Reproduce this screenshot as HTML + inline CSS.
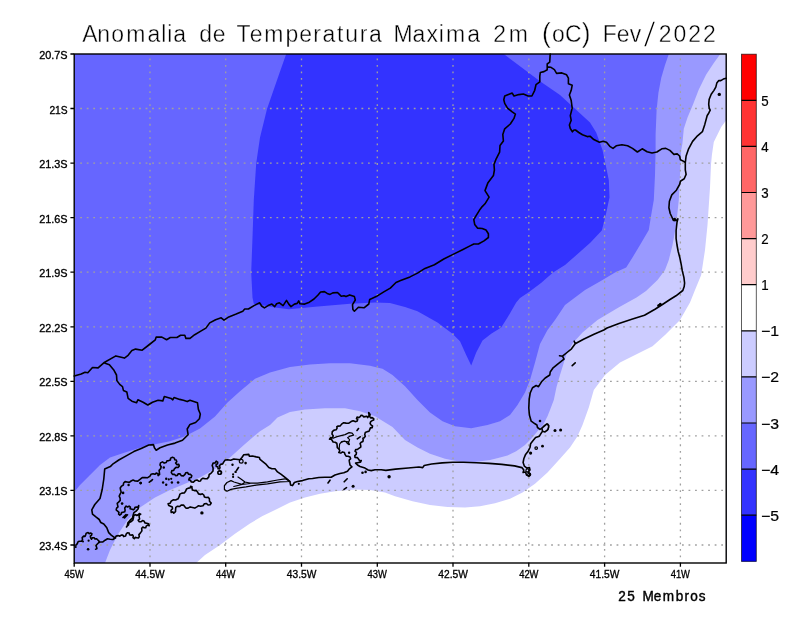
<!DOCTYPE html>
<html><head><meta charset="utf-8"><title>Anomalia de Temperatura Maxima 2m</title>
<style>
html,body{margin:0;padding:0;background:#fff;}
svg{display:block;}
text{font-family:"Liberation Sans",sans-serif;fill:#000;white-space:pre;}
.ax text{font-size:11.7px;stroke:#000;stroke-width:0.35px;}
.cb text{font-size:14.2px;stroke:#000;stroke-width:0.2px;}
.ti text{font-size:24.7px;stroke:#fff;stroke-width:0.4px;}
.mb text{font-size:14px;stroke:#000;stroke-width:0.4px;}
</style></head><body>
<svg width="800" height="618" viewBox="0 0 800 618">
<rect width="800" height="618" fill="#fff"/>
<rect x="74.2" y="54.0" width="652.0" height="509.0" fill="#6666ff"/>
<polygon points="286.2,54.0 278.8,75.0 267.0,109.0 260.0,137.5 256.2,163.5 253.8,200.0 252.5,237.5 251.2,272.5 252.5,297.5 253.8,303.8 275.0,307.5 288.8,309.2 315.0,306.8 350.0,303.8 375.0,302.5 390.0,303.0 405.0,307.0 417.5,311.2 437.5,322.5 452.5,333.8 460.0,341.2 466.2,355.0 471.2,365.5 476.2,352.5 482.5,340.5 491.2,333.8 501.2,327.5 507.5,317.5 516.2,302.5 520.0,298.0 529.0,292.0 541.0,283.0 553.0,272.5 565.0,265.0 577.0,254.5 590.5,242.5 601.8,230.5 604.5,220.0 606.2,213.0 609.5,197.5 608.8,180.0 606.2,167.5 602.5,150.0 596.2,132.5 590.0,122.5 575.0,108.8 560.0,95.0 540.0,81.2 515.0,62.5 503.8,54.0" fill="#3333ff"/>
<polygon points="74.2,492.0 80.0,485.0 90.0,475.0 100.0,465.0 110.0,457.5 125.0,452.5 145.0,446.2 170.0,441.2 185.0,436.2 200.0,428.5 215.0,416.5 227.5,402.5 240.0,391.2 255.0,378.8 270.0,372.5 290.0,367.0 310.0,364.5 330.0,363.2 350.0,363.2 370.0,365.8 382.5,368.8 392.5,375.0 405.0,386.2 417.5,400.0 430.0,412.5 442.5,421.2 455.0,426.2 471.2,428.2 487.5,425.0 500.0,421.2 510.0,415.0 517.5,405.0 525.0,392.5 530.0,380.0 535.0,362.5 540.0,344.0 547.5,330.0 555.0,320.0 565.0,305.0 585.0,290.0 602.5,280.0 615.0,272.5 626.2,267.5 632.5,257.5 640.0,245.0 648.8,230.0 651.2,215.0 653.8,200.0 655.0,175.0 655.6,150.0 655.6,134.4 656.6,110.0 658.4,93.0 661.2,78.0 665.0,65.0 668.8,54.0 726.2,54.0 726.2,563.0 74.2,563.0" fill="#9999ff"/>
<polygon points="105.0,563.0 110.0,550.0 117.5,535.0 127.5,520.0 140.0,507.5 155.0,497.5 170.0,490.0 185.0,483.8 200.0,477.5 215.0,469.0 230.0,457.5 245.0,444.0 260.0,431.2 270.0,425.0 277.5,417.5 290.0,412.0 305.0,409.5 325.0,408.2 345.0,408.2 360.0,411.2 375.0,416.2 392.5,427.0 405.0,440.0 417.5,447.5 430.0,453.8 445.0,458.8 460.0,461.8 475.0,462.0 490.0,460.0 500.0,457.5 507.5,455.6 516.2,451.2 525.0,445.0 531.2,438.8 537.5,431.2 543.1,425.0 547.5,416.2 550.0,410.0 553.8,400.0 556.5,387.0 560.0,375.0 566.2,355.0 572.5,343.5 582.5,332.5 597.5,320.0 618.5,307.5 636.5,297.5 646.0,291.0 657.5,280.0 665.0,270.0 668.8,260.0 672.5,245.0 676.2,225.0 678.8,200.0 680.0,175.0 681.2,150.0 682.4,143.8 683.8,128.8 687.5,117.5 693.0,104.4 698.8,89.4 706.2,74.4 713.8,63.0 720.3,54.0 726.2,54.0 726.2,563.0" fill="#ccccff"/>
<polygon points="196.2,563.0 205.0,555.0 220.0,545.0 235.0,533.8 250.0,523.5 262.5,516.0 275.0,510.0 290.0,502.5 305.0,497.5 320.0,493.8 335.0,491.2 355.0,489.5 370.0,490.0 385.0,492.5 395.0,496.2 412.5,501.2 430.0,505.0 447.5,507.0 465.0,507.5 480.0,506.2 495.0,503.2 510.0,498.8 522.5,492.5 535.0,483.8 547.5,472.5 560.0,458.8 570.0,447.5 577.5,436.2 582.5,425.0 588.8,407.5 593.8,390.0 605.0,375.0 620.0,362.5 635.0,355.0 652.5,346.2 665.0,335.0 680.0,320.0 690.0,302.5 695.0,290.0 701.2,275.0 705.0,250.0 707.5,225.0 710.0,187.5 711.0,164.4 711.9,155.0 713.8,142.0 717.5,134.4 721.2,127.0 726.2,120.3 726.2,563.0" fill="#ffffff"/>
<path d="M150.0 563.0V54.0M225.7 563.0V54.0M301.5 563.0V54.0M377.3 563.0V54.0M453.0 563.0V54.0M528.8 563.0V54.0M604.6 563.0V54.0M680.4 563.0V54.0" stroke="#a0a0a0" stroke-width="1.3" stroke-dasharray="1.8 4.741" stroke-dashoffset="0.9" fill="none"/>
<path d="M74.2 108.5H726.2M74.2 163.1H726.2M74.2 217.6H726.2M74.2 272.2H726.2M74.2 326.8H726.2M74.2 381.3H726.2M74.2 435.8H726.2M74.2 490.4H726.2M74.2 545.0H726.2" stroke="#a0a0a0" stroke-width="1.3" stroke-dasharray="1.8 4.741" stroke-dashoffset="0.55" fill="none"/>
<!--MAP-->
<path d="M74.2 376.0L81.2 374.0L85.0 372.2L87.8 372.8L92.5 367.5L98.1 367.9L103.8 362.8L115.9 355.9L124.4 358.1L128.1 355.3L131.9 350.6L135.6 349.1L142.2 350.2L148.8 345.0L155.3 339.8L156.2 337.1L161.9 337.1L166.6 339.8L170.3 337.5L176.9 337.5L180.6 335.2L184.8 335.2L185.9 338.4L190.0 338.4L194.7 334.7L201.2 330.9L205.9 328.1L209.7 322.9L215.6 319.7L221.2 317.8L224.0 320.2L228.8 316.9L236.2 314.0L242.8 311.2L244.7 309.0L248.4 309.0L254.0 305.6L259.7 302.8L261.6 306.0L264.4 307.9L268.1 305.6L271.9 304.1L274.7 306.6L276.6 303.8L279.4 302.8L283.1 305.6L286.5 300.4L288.8 304.1L291.0 306.6L294.4 304.1L297.2 303.4L298.7 300.9L300.0 303.8L304.7 304.1L309.4 302.2L314.0 299.0L317.8 295.3L320.6 292.0L324.4 291.6L327.2 293.4L330.0 294.4L332.8 292.9L337.5 292.5L339.4 294.4L341.2 296.2L344.0 295.7L346.0 296.6L349.7 294.9L354.4 296.6L355.3 300.0L352.5 304.7L352.9 309.4L354.4 311.2L358.4 307.2L364.0 307.8L368.8 304.0L369.7 299.4L376.2 296.6L383.8 291.9L390.3 288.1L396.0 282.5L400.6 280.6L410.0 276.9L417.5 273.1L425.0 268.4L434.4 264.7L443.8 259.0L453.1 254.4L462.5 249.7L470.0 245.9L473.8 244.0L478.4 244.0L484.0 240.9L488.4 237.5L488.4 233.8L486.0 230.0L482.2 228.5L477.5 228.1L474.7 224.4L473.8 219.7L476.0 215.9L479.4 210.3L482.2 206.6L485.0 203.8L489.1 197.2L485.0 190.6L487.8 183.1L493.4 175.6L494.4 170.0L494.0 164.4L496.2 158.8L499.6 152.2L500.0 145.6L503.4 141.0L502.8 134.4L504.7 128.8L510.3 124.0L514.0 118.4L515.4 114.1L512.2 111.9L507.5 108.1L504.7 103.4L503.8 99.7L504.7 96.0L508.4 94.6L512.2 93.1L514.0 96.0L518.8 94.6L523.4 94.0L528.1 96.0L531.9 96.0L534.7 90.3L536.0 84.7L539.8 81.9L539.8 76.2L540.3 72.5L544.0 71.6L547.2 69.7L547.2 64.0L549.7 62.2L550.2 54.0M547.2 66.9L550.6 67.2L554.4 69.7L556.6 73.4L561.9 72.9L566.6 74.8L568.4 78.1L568.4 83.8L572.2 85.2L571.2 90.3L569.4 95.0L571.2 100.6L572.2 108.1L570.3 115.6L571.2 120.3L569.4 125.0L570.3 128.5L572.4 131.8L574.0 130.0L575.5 130.0L578.8 132.5L582.5 134.8L587.2 136.6L590.0 136.2L593.8 139.6L599.4 142.2L603.2 141.2L606.5 142.2L609.8 146.3L613.0 148.4L616.2 145.8L621.9 144.7L627.6 145.8L632.5 148.4L637.4 152.0L642.2 148.8L647.1 151.7L652.0 153.0L656.9 152.0L661.8 148.8L665.8 148.4L669.9 150.4L673.9 154.4L677.2 153.9L679.6 156.0L680.4 159.8L682.9 160.9L685.3 162.6M103.8 362.8L109.4 364.7L114.0 370.3L116.5 375.0L116.9 380.6L119.7 384.4L122.5 386.6L123.4 390.4L126.8 391.9L128.1 398.4L131.9 401.2L136.6 402.8L137.9 399.8L143.1 402.2L147.8 405.0L152.5 402.2L158.1 400.3L162.8 400.9L164.3 396.6L171.2 398.4L172.8 399.8L174.0 397.5L179.7 399.4L183.4 400.3L187.2 401.6L190.0 400.3L197.5 402.8L198.4 409.4L200.3 414.0L199.4 418.8L195.6 422.5L190.0 424.4L187.2 429.0L188.1 434.7L185.3 437.5L182.5 440.3L175.0 443.1L167.5 445.0L160.0 447.8L156.2 450.2L154.4 447.8L153.4 444.6L148.8 445.0L141.2 448.4L133.8 451.6L126.2 455.9L118.8 460.0L113.1 463.8L110.3 466.6L104.7 469.0L103.8 479.0L102.2 489.5L100.0 498.5L94.8 504.5L91.8 509.8L92.5 514.2L96.2 517.2L99.2 519.5L100.8 522.5L103.8 524.0L106.8 527.8L108.7 532.6L111.2 535.1L114.2 537.3L115.5 538.0M726.2 78.3L723.3 79.1L720.8 80.6L718.8 80.6L716.8 83.1L715.8 87.1L713.8 90.6L711.2 94.2L709.2 99.2L708.7 104.2L709.2 108.2L710.2 110.2L708.7 113.2L707.2 115.5L704.8 124.4L702.4 131.7L697.5 135.8L692.6 141.4L688.6 148.8L686.1 156.0L685.3 162.6L685.3 169.9L686.1 174.4L684.2 178.8L680.4 181.2L679.6 184.5L676.4 190.2L671.8 194.9L669.4 201.3L668.9 207.8L670.2 213.5L672.1 217.5L673.4 220.4L676.6 220.4L677.9 218.8L677.0 222.4L676.1 230.5L676.1 238.5L677.0 245.0L678.2 251.5L679.9 258.0L681.2 264.4L682.3 270.9L683.9 277.4L684.6 283.0L684.2 286.5L682.8 290.5L676.0 295.8L670.0 299.5L663.2 304.0L655.0 309.2L644.5 315.2L632.5 319.0L619.0 323.5L607.0 328.0L603.8 330.0L594.0 334.2L583.5 339.3L575.2 343.8L571.5 348.8L567.0 352.5L562.5 356.2L564.0 359.2L558.0 363.8L552.8 368.2L550.2 372.0L549.8 375.0L545.2 378.0L541.5 381.8L538.5 386.7L536.2 385.5L532.5 387.8L530.2 393.0L529.2 399.0L528.8 408.0L529.4 415.0L531.2 421.2L535.0 423.8L536.9 425.0L537.5 427.5L540.0 429.4L541.9 428.1L543.8 426.2L546.9 423.8L548.1 424.4L548.8 426.9L547.5 430.0L545.0 431.9L542.5 431.2L541.2 433.1L539.4 436.2L535.6 437.5L533.1 440.6L530.6 443.8L530.0 447.5L528.1 451.2L525.6 454.4L523.8 458.8L523.1 462.5L524.4 466.2L526.9 468.1L529.4 467.5L530.0 470.0L528.1 471.9L530.0 473.8L529.0 476.2L526.5 475.0L525.5 472.0L523.1 472.5L523.8 470.0L521.9 467.6L514.5 465.9L501.8 464.4L489.0 463.4L476.2 462.7L463.5 462.3L452.9 462.3L442.2 462.9L431.6 464.0L424.2 465.5L422.7 467.6L418.9 467.0L408.2 468.0L395.5 469.1L385.9 470.4L381.2 469.8L375.0 469.8L371.2 470.6L368.1 470.0L365.0 468.1L360.0 466.5L357.5 465.0L355.6 463.1L358.8 462.5L360.5 462.3L361.2 460.6L359.6 460.8L358.8 459.4L357.3 457.6L355.0 457.5L354.8 455.6L356.2 454.4L356.5 452.5L355.0 451.2L355.7 449.6L357.5 449.4L359.2 448.2L360.8 447.1L360.7 445.2L360.1 443.6L361.2 442.2L362.9 441.5L363.2 439.7L362.9 438.3L364.2 437.7L365.3 436.3L364.7 434.6L365.3 432.5L367.2 431.6L369.0 431.3L369.7 429.6L370.4 427.9L372.2 427.6L372.5 426.0L371.2 425.1L370.1 423.5L370.7 421.6L372.2 420.6L373.7 420.1L373.7 418.6L372.2 417.6L370.6 417.9L369.7 416.6L370.1 414.4L368.7 412.6L369.1 415.3L367.7 417.6L366.8 416.3L365.2 416.6L363.6 416.9L362.7 415.6L361.1 415.3L360.2 416.6L358.8 417.7L357.1 417.1L356.5 418.6L357.7 419.6L356.9 421.3L355.1 421.6L353.1 420.7L351.1 421.6L348.9 423.2L346.1 423.1L343.7 422.7L341.6 424.1L340.3 425.9L338.1 426.1L336.8 426.7L337.1 428.1L336.1 429.8L334.1 430.1L332.3 431.7L332.0 434.1L333.2 435.8L332.6 437.7L330.7 437.6L329.5 439.2L331.1 438.9L332.0 440.2L333.1 442.0L335.1 442.2L336.8 443.2L337.1 445.2L337.3 447.6L339.1 449.2L339.8 450.9L338.8 452.5L340.8 453.1L342.5 451.9L344.4 452.5L345.0 454.4L346.1 456.1L348.1 456.2L350.0 456.9L350.6 458.8L349.2 460.0L349.4 461.9L350.0 465.0L351.9 466.9L349.4 468.8L347.5 471.2L343.8 472.8L340.0 473.5L335.0 475.0L331.2 477.2L325.0 477.2L318.8 477.5L312.5 478.5L308.8 478.8L302.5 480.6L297.5 481.5L294.4 482.5L292.5 485.6L290.6 485.0L290.0 481.9L287.5 479.4L284.4 476.9L281.2 474.4L277.5 471.9L275.0 468.8L271.9 468.8L268.8 467.5L266.2 464.4L263.1 461.9L260.0 459.4L259.4 457.5L256.2 456.9L252.5 456.0L249.4 456.2L248.8 454.4L243.8 454.8L241.9 457.5L240.0 459.8L233.8 459.0L230.7 460.3L227.5 459.8L225.2 460.0L223.8 461.9L222.7 463.9L220.6 464.4L219.4 465.8L220.0 467.5L219.5 468.9L218.1 468.8L217.9 467.0L216.2 466.2L216.1 464.6L217.5 463.8L217.7 462.1L216.2 461.2L215.1 463.0L213.1 463.1L212.2 465.6L213.1 468.1L213.0 470.9L211.2 473.1L209.2 474.5L208.8 476.9L207.3 478.6L205.0 478.8L203.0 478.2L201.2 479.4L200.5 481.0L198.8 481.2L197.0 480.0L195.0 480.6L193.4 482.1L191.2 481.9L190.5 480.2L188.8 480.0L189.4 478.1L191.2 477.5L191.8 475.8L190.6 474.4L188.6 474.2L187.5 472.5L185.7 472.7L185.0 474.4L183.4 475.9L181.2 475.6L180.1 473.9L178.1 473.8L177.4 475.4L175.6 475.6L174.4 474.2L172.5 474.4L171.3 472.6L171.9 470.6L173.7 470.4L174.4 468.8L176.0 467.3L178.1 467.5L179.3 466.1L178.8 464.4L176.8 464.6L175.6 463.1L176.8 461.7L176.2 460.0L174.7 459.7L174.4 458.1L172.5 457.2L170.6 458.1L170.4 459.9L168.8 460.6L167.0 460.8L166.2 462.5L164.2 463.1L162.5 461.9L160.5 462.9L160.0 465.0L161.2 466.7L160.6 468.8L159.1 470.4L159.4 472.5L159.6 474.4L158.1 475.6L157.9 473.8L156.2 473.1L154.9 474.3L153.1 473.8L151.0 474.3L150.0 476.2L147.7 477.7L145.0 477.5L142.2 477.6L140.0 479.4L137.8 481.1L135.1 481.0L133.1 480.1L131.1 481.0L129.3 482.4L127.1 482.0L125.1 481.6L123.6 483.0L123.4 485.0L121.6 486.1L120.2 487.9L120.6 490.1L121.2 492.2L120.1 494.1L119.2 496.1L120.1 498.1L120.2 500.4L118.6 502.1L117.2 503.3L117.6 505.1L118.0 506.9L116.6 508.2L116.2 510.0L117.6 511.2L119.0 512.4L118.6 514.2L119.8 515.1L121.1 514.2L121.5 512.6L123.1 512.2L124.7 511.8L125.1 510.2L124.7 507.9L126.1 506.1L127.6 507.0L129.1 506.1L130.4 507.1L130.1 508.7L132.1 509.2L133.5 509.8L134.6 508.7L135.0 507.2L136.6 507.1L138.2 507.1L138.7 505.6L138.2 508.8L136.1 511.2L133.9 512.7L133.1 515.2L132.4 518.2L130.1 520.2L127.9 522.7L127.3 525.9L128.5 524.8L128.9 522.7L130.8 521.8L132.9 520.1L133.5 517.5L133.8 515.5L135.5 514.6L136.8 515.5L138.2 514.7L139.3 513.6L140.7 514.2L139.1 515.3L139.2 517.2L139.6 519.0L138.2 520.2L139.3 521.8L141.2 521.7L142.6 520.6L144.2 521.2L144.9 522.9L146.7 523.2L148.6 523.8L149.2 525.7L147.6 525.1L146.2 526.2L145.7 527.7L144.2 527.7L142.8 527.1L141.7 528.2L141.9 530.9L140.3 533.1L138.9 534.6L139.3 536.6L138.4 538.0L136.8 537.7L135.2 537.4L134.3 538.7L133.0 537.7L133.3 536.1L132.6 534.8L131.2 535.1L129.6 534.7L129.2 533.1L127.4 532.7L126.2 534.1L125.6 536.0L123.7 536.6L122.9 535.1L121.2 535.1L119.8 536.2L118.2 535.6L116.1 536.1L115.2 538.0L112.9 539.5L110.2 539.2L107.5 538.8L105.1 540.2L102.9 541.9L100.1 542.0L98.6 542.7L97.1 544.2L96.0 545.6L96.6 547.2L96.9 548.6L95.6 549.2L96.9 548.6L96.6 547.2L96.0 545.6L97.1 544.2L98.6 542.7L99.2 541.3L98.1 540.2L96.6 538.7L95.0 539.0L94.1 537.7L92.4 537.7L91.6 539.2L90.6 537.7L90.3 536.1L91.6 535.1L91.9 533.7L90.6 533.1L89.2 533.7L88.1 532.6L86.2 533.2L85.6 535.1L85.0 536.4L83.6 536.1L82.2 537.6L82.5 539.7L81.7 541.2L80.0 541.2L78.2 541.5L77.5 543.2L76.3 545.0L74.2 545.2M168.1 503.8L170.2 503.2L171.2 501.2L173.2 499.8L175.6 500.0L178.1 498.8L179.4 496.2L179.9 494.1L181.9 493.1L184.2 493.0L185.6 491.2L186.5 489.0L188.8 488.1L190.3 487.8L190.6 486.2L192.0 486.7L191.9 488.1L192.5 490.0L194.4 490.6L196.3 490.4L197.5 491.9L198.5 493.9L200.6 494.4L202.3 493.8L203.8 495.0L204.4 496.9L206.2 497.5L208.2 497.3L209.4 498.8L209.5 501.3L211.2 503.1L210.1 504.8L208.1 505.0L206.5 503.5L204.4 503.8L203.0 505.8L200.6 506.2L198.6 505.7L196.9 506.9L194.8 508.1L192.5 507.5L190.2 506.9L188.1 508.1L186.2 508.3L185.0 506.9L183.5 505.1L181.2 505.0L179.7 506.5L177.5 506.2L175.8 507.4L175.6 509.4L175.5 511.7L173.8 513.1L172.7 511.9L171.2 512.5L171.0 510.3L172.5 508.8L172.3 507.0L170.6 506.2L168.7 505.6L168.1 503.8M541.9 428.1L546.9 423.8L548.8 425.6L548.1 429.4L545.0 431.9L542.5 431.2L541.9 428.1M572.2 365.6L575.2 362.8M328.0 483.0L330.0 480.2M344.2 481.8L347.2 478.8M344.0 489.3L346.5 487.7M357.0 430.5L358.5 428.5M357.3 438.8L360.2 436.8M149.3 482.2L152.0 480.3M150.0 481.5L152.5 479.5M236.5 470.5L238.5 467.5M123.0 517.5L126.0 514.5M124.5 518.0L127.5 514.8M126.5 527.0L129.0 523.0M574.2 341.2L575.2 343.8M559.5 355.8L562.5 356.2" fill="none" stroke="#000" stroke-width="1.6" stroke-linejoin="round" stroke-linecap="round"/>
<path d="M238.0 477.0L240.6 478.8L245.0 482.0L250.0 483.2L257.5 483.2L267.5 481.9L277.5 480.0L285.0 478.8L290.0 481.3M290.0 481.5L280.0 481.9L267.5 483.8L256.0 485.2L246.0 486.9L237.5 488.1L231.0 489.4L227.0 491.2L224.4 489.4L224.4 485.6L227.0 482.5L231.0 480.6L234.0 482.0L241.9 484.4L244.4 482.5M233.8 486.5L242.0 484.5L250.0 483.5M333.1 438.2L337.1 436.6L341.1 435.6L345.1 434.6L349.1 432.6L352.1 433.1L353.6 435.1L350.1 436.1L347.6 437.7L349.6 439.7L348.6 442.2L349.1 444.7L347.1 443.2L345.1 441.2L341.6 441.7L339.6 444.2L339.1 449.2M341.2 442.5L343.8 441.2L348.1 441.9L349.4 444.4" fill="none" stroke="#000" stroke-width="1.2" stroke-linejoin="round" stroke-linecap="round"/>
<g fill="#000"><circle cx="719.3" cy="94.4" r="1.7"/><circle cx="540.0" cy="421.0" r="1.3"/><circle cx="555.0" cy="430.4" r="1.5"/><circle cx="560.6" cy="430.0" r="1.5"/><circle cx="542.5" cy="446.2" r="1.4"/><circle cx="530.6" cy="453.1" r="1.6"/><circle cx="389.1" cy="476.8" r="1.7"/><circle cx="353.1" cy="486.2" r="1.5"/><circle cx="362.5" cy="472.8" r="1.3"/><circle cx="365.6" cy="471.9" r="1.3"/><circle cx="349.1" cy="452.7" r="1.2"/><circle cx="201.9" cy="512.9" r="1.7"/><circle cx="232.5" cy="464.8" r="1.2"/><circle cx="245.6" cy="463.1" r="1.3"/><circle cx="235.6" cy="471.9" r="1.2"/><circle cx="233.1" cy="474.4" r="1.1"/><circle cx="233.1" cy="476.9" r="1.1"/><circle cx="140.6" cy="483.1" r="1.3"/><circle cx="163.8" cy="467.5" r="1.2"/><circle cx="166.2" cy="478.8" r="1.2"/><circle cx="168.8" cy="479.4" r="1.1"/><circle cx="163.1" cy="482.5" r="1.2"/><circle cx="166.2" cy="484.8" r="1.2"/><circle cx="171.9" cy="482.5" r="1.2"/><circle cx="178.1" cy="482.5" r="1.3"/><circle cx="171.2" cy="478.8" r="1.1"/><circle cx="140.7" cy="483.0" r="1.3"/><circle cx="128.6" cy="485.0" r="1.2"/><circle cx="123.1" cy="492.9" r="1.3"/><circle cx="122.1" cy="503.6" r="1.3"/><circle cx="88.1" cy="549.2" r="1.3"/><circle cx="88.6" cy="540.7" r="1.1"/><circle cx="83.0" cy="541.5" r="1.0"/><circle cx="75.7" cy="547.0" r="1.1"/><circle cx="298.8" cy="483.8" r="1.1"/><circle cx="658.8" cy="305.5" r="1.6"/><circle cx="660.3" cy="304.3" r="1.5"/><circle cx="674.5" cy="219.5" r="1.7"/></g>
<g fill="none" stroke="#000" stroke-width="1.2"><circle cx="219.4" cy="472.8" r="1.7"/><circle cx="241.2" cy="461.2" r="1.9"/><circle cx="219.8" cy="472.5" r="1.9"/><circle cx="536.2" cy="448.1" r="1.3"/><circle cx="527.5" cy="470.5" r="1.6"/><circle cx="529.2" cy="474.6" r="1.5"/></g>
<rect x="74.2" y="54.0" width="652.0" height="509.0" fill="none" stroke="#000" stroke-width="1.4"/>
<path d="M74.2 563.0v3.8M150.0 563.0v3.8M225.7 563.0v3.8M301.5 563.0v3.8M377.3 563.0v3.8M453.0 563.0v3.8M528.8 563.0v3.8M604.6 563.0v3.8M680.4 563.0v3.8M74.2 54.0h-3.8M74.2 108.5h-3.8M74.2 163.1h-3.8M74.2 217.6h-3.8M74.2 272.2h-3.8M74.2 326.8h-3.8M74.2 381.3h-3.8M74.2 435.8h-3.8M74.2 490.4h-3.8M74.2 545.0h-3.8" stroke="#000" stroke-width="1.3" fill="none"/>
<g class="ax">
<text x="64.5" y="577.6" textLength="19.3" lengthAdjust="spacingAndGlyphs">45W</text>
<text x="135.2" y="577.6" textLength="29.5" lengthAdjust="spacingAndGlyphs">44.5W</text>
<text x="216.1" y="577.6" textLength="19.3" lengthAdjust="spacingAndGlyphs">44W</text>
<text x="286.8" y="577.6" textLength="29.5" lengthAdjust="spacingAndGlyphs">43.5W</text>
<text x="367.6" y="577.6" textLength="19.3" lengthAdjust="spacingAndGlyphs">43W</text>
<text x="438.3" y="577.6" textLength="29.5" lengthAdjust="spacingAndGlyphs">42.5W</text>
<text x="519.2" y="577.6" textLength="19.3" lengthAdjust="spacingAndGlyphs">42W</text>
<text x="589.8" y="577.6" textLength="29.5" lengthAdjust="spacingAndGlyphs">41.5W</text>
<text x="670.7" y="577.6" textLength="19.3" lengthAdjust="spacingAndGlyphs">41W</text>
<text x="39.2" y="59.0" textLength="28.4" lengthAdjust="spacingAndGlyphs">20.7S</text>
<text x="49.4" y="113.5" textLength="18.2" lengthAdjust="spacingAndGlyphs">21S</text>
<text x="39.2" y="168.1" textLength="28.4" lengthAdjust="spacingAndGlyphs">21.3S</text>
<text x="39.2" y="222.6" textLength="28.4" lengthAdjust="spacingAndGlyphs">21.6S</text>
<text x="39.2" y="277.2" textLength="28.4" lengthAdjust="spacingAndGlyphs">21.9S</text>
<text x="39.2" y="331.8" textLength="28.4" lengthAdjust="spacingAndGlyphs">22.2S</text>
<text x="39.2" y="386.3" textLength="28.4" lengthAdjust="spacingAndGlyphs">22.5S</text>
<text x="39.2" y="440.8" textLength="28.4" lengthAdjust="spacingAndGlyphs">22.8S</text>
<text x="39.2" y="495.4" textLength="28.4" lengthAdjust="spacingAndGlyphs">23.1S</text>
<text x="39.2" y="550.0" textLength="28.4" lengthAdjust="spacingAndGlyphs">23.4S</text>
</g>
<rect x="741.5" y="54.2" width="14.8" height="46.4" fill="#ff0000"/>
<rect x="741.5" y="100.3" width="14.8" height="46.4" fill="#ff3333"/>
<rect x="741.5" y="146.4" width="14.8" height="46.4" fill="#ff6666"/>
<rect x="741.5" y="192.5" width="14.8" height="46.4" fill="#ff9999"/>
<rect x="741.5" y="238.6" width="14.8" height="46.4" fill="#ffcccc"/>
<rect x="741.5" y="284.7" width="14.8" height="46.4" fill="#ffffff"/>
<rect x="741.5" y="330.8" width="14.8" height="46.4" fill="#ccccff"/>
<rect x="741.5" y="376.9" width="14.8" height="46.4" fill="#9999ff"/>
<rect x="741.5" y="423.0" width="14.8" height="46.4" fill="#6666ff"/>
<rect x="741.5" y="469.1" width="14.8" height="46.4" fill="#3333ff"/>
<rect x="741.5" y="515.2" width="14.8" height="46.4" fill="#0000ff"/>
<rect x="741.5" y="54.2" width="14.8" height="507.1" fill="none" stroke="#000" stroke-opacity="0.7" stroke-width="0.9"/>
<path d="M741.5 100.3h14.8M741.5 146.4h14.8M741.5 192.5h14.8M741.5 238.6h14.8M741.5 284.7h14.8M741.5 330.8h14.8M741.5 376.9h14.8M741.5 423.0h14.8M741.5 469.1h14.8M741.5 515.2h14.8" stroke="#000" stroke-width="1.2" fill="none"/>
<g class="cb">
<text x="761.3" y="105.8" textLength="7.4" lengthAdjust="spacingAndGlyphs">5</text>
<text x="761.3" y="151.9" textLength="7.4" lengthAdjust="spacingAndGlyphs">4</text>
<text x="761.3" y="198.0" textLength="7.4" lengthAdjust="spacingAndGlyphs">3</text>
<text x="761.3" y="244.1" textLength="7.4" lengthAdjust="spacingAndGlyphs">2</text>
<text x="761.3" y="290.2" textLength="7.4" lengthAdjust="spacingAndGlyphs">1</text>
<text x="761.0" y="336.3" textLength="18.0" lengthAdjust="spacingAndGlyphs">−1</text>
<text x="761.0" y="382.4" textLength="18.0" lengthAdjust="spacingAndGlyphs">−2</text>
<text x="761.0" y="428.5" textLength="18.0" lengthAdjust="spacingAndGlyphs">−3</text>
<text x="761.0" y="474.6" textLength="18.0" lengthAdjust="spacingAndGlyphs">−4</text>
<text x="761.0" y="520.7" textLength="18.0" lengthAdjust="spacingAndGlyphs">−5</text>
</g>
<g class="ti"><text transform="scale(0.93,1)" x="88.54 104.60 119.68 135.71 158.58 173.42 179.77 186.37 203.70 214.15 228.84 245.77 254.36 268.53 284.17 307.03 321.72 336.78 346.73 362.47 371.34 386.80 396.74 414.07 423.09 443.58 458.56 471.92 479.46 502.33 519.66 530.51 546.94 572.05" y="42.0">Anomalia de Temperatura Maxima 2m </text><text transform="scale(0.95,1)" x="570.42" y="42.0" style="font-size:27.7px;">(</text><text transform="scale(0.93,1)" x="593.62 607.45" y="42.0">oC</text><text transform="scale(0.95,1)" x="612.39" y="42.0" style="font-size:27.7px;">)</text><text transform="scale(0.93,1)" x="638.74 648.12 663.09 677.27" y="42.0"> Fev</text><text transform="scale(1.35,1)" x="476.37" y="46.9" style="font-size:34.8px;stroke-width:1.5px;">/</text><text transform="scale(0.93,1)" x="708.34 724.21 740.09 755.97" y="42.0">2022</text></g>
<g class="mb"><text transform="scale(0.97,1)" x="637.35 646.65 656.97 662.38 674.09 683.31 696.64 705.64 711.51 720.28" y="600.8">25 Membros</text></g>
</svg>
</body></html>
